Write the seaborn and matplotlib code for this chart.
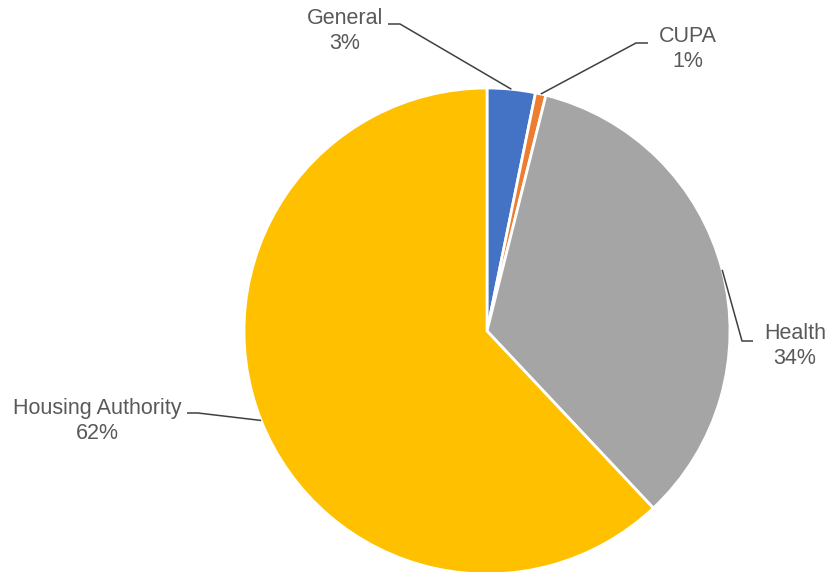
import numpy as np
import matplotlib
matplotlib.use("Agg")
import matplotlib.pyplot as plt
import seaborn as sns

# data
categories = ["General", "CUPA", "Health", "Housing Authority"]
shares = [3.2, 0.7, 34.1, 62.0]
pct_labels = ["3%", "1%", "34%", "62%"]
colors = ["#4472C4", "#ED7D31", "#A5A5A5", "#FFC000"]

# layout (image pixel coords, y down)
label_pos = [(345, 31), (688, 49), (795, 346), (97, 421)]
line_ends = [(388, 24), (648, 43), (753, 341), (187, 413)]
line_knees = [(400, 24), (636, 43), (742, 341), (198, 413)]

W, H = 827, 572
cx, cy, r = 487, 331, 243

sns.set_theme(style="white")
plt.rcParams['font.family'] = ['Liberation Sans', 'DejaVu Sans']

fig = plt.figure(figsize=(W / 100, H / 100), dpi=100)
ax = fig.add_axes([0, 0, 1, 1])

wedges, _ = ax.pie(shares, colors=colors, startangle=90, counterclock=False,
                   center=(cx, H - cy), radius=r,
                   wedgeprops=dict(edgecolor="white", linewidth=2))

ax.set_xlim(0, W)
ax.set_ylim(0, H)
ax.set_aspect("equal")
ax.axis("off")

for i, w in enumerate(wedges):
    mid = np.deg2rad((w.theta1 + w.theta2) / 2)
    ex = cx + r * np.cos(mid)
    ey = (H - cy) + r * np.sin(mid)
    kx, ky = line_knees[i]
    lx, ly = line_ends[i]
    ax.plot([ex, kx, lx], [ey, H - ky, H - ly], color="#404040", lw=1.1,
            solid_capstyle="butt")
    tx, ty = label_pos[i]
    ax.text(tx, H - ty, f"{categories[i]}\n{pct_labels[i]}", ha="center",
            va="center", fontsize=15.5, color="#595959", linespacing=1.2)

fig.savefig("out.png", dpi=100, facecolor="white")
